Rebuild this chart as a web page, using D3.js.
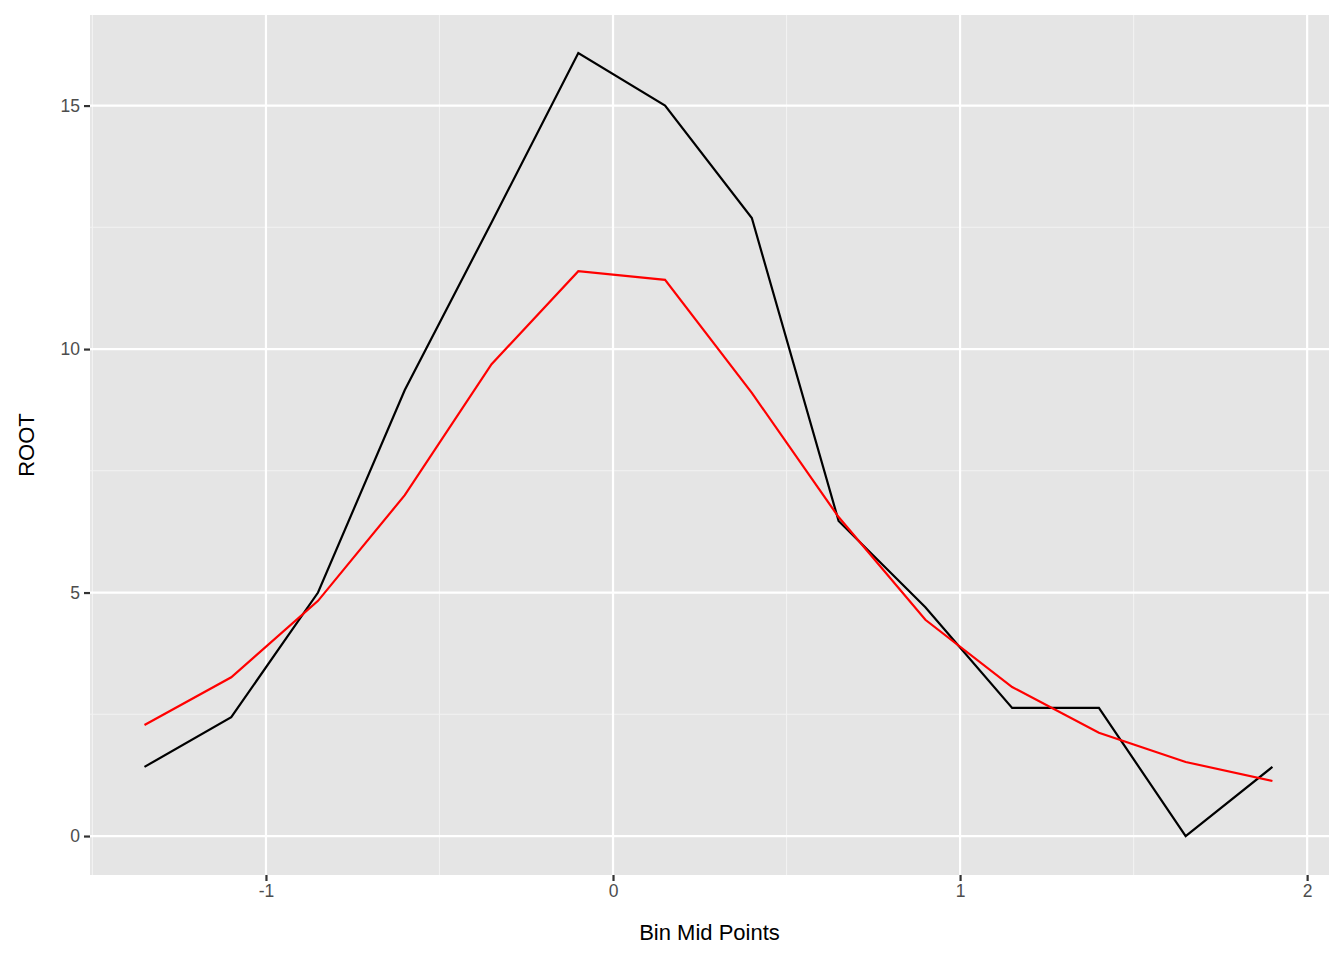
<!DOCTYPE html>
<html><head><meta charset="utf-8">
<script src="https://cdn.jsdelivr.net/npm/d3@7"></script>
<style>body{margin:0;background:#fff}</style>
</head><body>
<svg id="chart" width="1344" height="960"></svg>
<script>
var binMids = [-1.35,-1.1,-0.85,-0.6,-0.35,-0.1,0.15,0.4,0.65,0.9,1.15,1.4,1.65,1.9];
var blackVals = [1.42,2.44,5.0,9.16,12.6,16.08,15.0,12.69,6.47,4.7,2.63,2.63,0,1.42];
var redVals = [2.28,3.26,4.83,7.0,9.69,11.6,11.42,9.1,6.55,4.44,3.06,2.12,1.52,1.13];
var xTicks = [-1,0,1,2];
var yTicks = [0,5,10,15];

var svg = d3.select("#chart");
var pLeft = 90, pRight = 1329, pTop = 15, pBottom = 875;
var x = d3.scaleLinear().domain([-1.507,2.063]).range([pLeft,pRight]);
var y = d3.scaleLinear().domain([-0.8,16.86]).range([pBottom,pTop]);

svg.append("rect").attr("x",pLeft).attr("y",pTop).attr("width",pRight-pLeft).attr("height",pBottom-pTop).attr("fill","#e5e5e5");

// minor grid
var xMinor = [-1.5,-0.5,0.5,1.5], yMinor = [2.5,7.5,12.5];
svg.selectAll(".xm").data(xMinor).enter().append("line")
  .attr("x1",d=>x(d)).attr("x2",d=>x(d)).attr("y1",pTop).attr("y2",pBottom)
  .attr("stroke","#f2f2f2").attr("stroke-width",1.1);
svg.selectAll(".ym").data(yMinor).enter().append("line")
  .attr("y1",d=>y(d)).attr("y2",d=>y(d)).attr("x1",pLeft).attr("x2",pRight)
  .attr("stroke","#f2f2f2").attr("stroke-width",1.1);
// major grid
svg.selectAll(".xg").data(xTicks).enter().append("line")
  .attr("x1",d=>x(d)).attr("x2",d=>x(d)).attr("y1",pTop).attr("y2",pBottom)
  .attr("stroke","#fff").attr("stroke-width",2.2);
svg.selectAll(".yg").data(yTicks).enter().append("line")
  .attr("y1",d=>y(d)).attr("y2",d=>y(d)).attr("x1",pLeft).attr("x2",pRight)
  .attr("stroke","#fff").attr("stroke-width",2.2);

var line = d3.line().x((d,i)=>x(binMids[i])).y(d=>y(d));
svg.append("path").datum(blackVals).attr("d",line).attr("fill","none").attr("stroke","#000").attr("stroke-width",2.2);
svg.append("path").datum(redVals).attr("d",line).attr("fill","none").attr("stroke","#ff0000").attr("stroke-width",2.2);

var xAxis = svg.append("g").attr("transform","translate(0,"+pBottom+")")
  .call(d3.axisBottom(x).tickValues(xTicks).tickSize(6).tickPadding(4).tickFormat(d3.format("d")));
var yAxis = svg.append("g").attr("transform","translate("+pLeft+",0)")
  .call(d3.axisLeft(y).tickValues(yTicks).tickSize(6).tickPadding(4));
[xAxis,yAxis].forEach(function(a){
  a.select(".domain").remove();
  a.selectAll("line").attr("stroke","#333").attr("stroke-width",2.2);
  a.selectAll("text").attr("fill","#4d4d4d").style("font-size","17.5px").style("font-family","Liberation Sans, Arial, sans-serif");
});
xAxis.selectAll("text").text(d=>d<0?"-"+Math.abs(d):d);

svg.append("text").attr("x",(pLeft+pRight)/2).attr("y",940).attr("text-anchor","middle")
  .style("font-size","22px").style("font-family","Liberation Sans, Arial, sans-serif").text("Bin Mid Points");
svg.append("text").attr("transform","translate(34,"+((pTop+pBottom)/2)+") rotate(-90)").attr("text-anchor","middle")
  .style("font-size","22px").style("font-family","Liberation Sans, Arial, sans-serif").text("ROOT");
</script>
</body></html>
